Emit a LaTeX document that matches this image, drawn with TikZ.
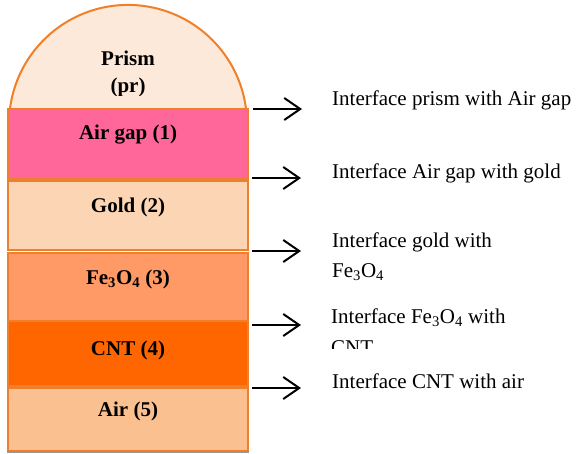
\documentclass[tikz,border=0pt]{standalone}
\usepackage{fontspec}
\setmainfont{Liberation Serif}
\usetikzlibrary{arrows.meta}
\definecolor{domefill}{HTML}{FDE9D9}
\definecolor{edgeor}{HTML}{EE7F2D}
\definecolor{airgapc}{HTML}{FF6699}
\definecolor{goldc}{HTML}{FCD5B5}
\definecolor{fec}{HTML}{FF9966}
\definecolor{cntc}{HTML}{FF6600}
\definecolor{airc}{HTML}{FAC090}
\tikzset{
  layerbox/.style={draw=edgeor, line width=2pt},
  lbl/.style={font=\fontsize{21}{29}\selectfont\bfseries, anchor=base, inner sep=0pt},
  itxt/.style={font=\fontsize{21}{29}\selectfont, anchor=base west, inner sep=0pt},
  ifarrow/.style={draw=black, line width=2pt, -{Straight Barb[length=16pt,width=22pt,line width=2pt]}}
}
\begin{document}
\begin{tikzpicture}[x=1pt,y=1pt]
\useasboundingbox (0,0) rectangle (576,-453);
% dome (prism)
\draw[fill=domefill, draw=edgeor!90!orange, line width=2pt]
  (9.94,-109) arc[start angle=172.8, end angle=7.2, radius=119] -- cycle;
\node[lbl] (prism) at (128,-65) {Prism};
\begin{scope}
  \clip (60,-70) rectangle (200,-95.5);
  \node[lbl] (pr) at (128,-92) {(pr)};
\end{scope}
% layers
\draw[layerbox, fill=airgapc] (8,-109) rectangle (248,-179);
\draw[layerbox, fill=goldc] (8,-181) rectangle (248,-250);
\draw[layerbox, fill=fec] (8,-252.5) rectangle (248,-321);
\draw[layerbox, fill=cntc] (8,-321) rectangle (248,-386);
\draw[layerbox, fill=airc] (8,-388) rectangle (248,-451);
\draw[draw=black!40, line width=1.5pt] (7,-452.5) -- (249,-452.5);
% layer labels
\node[lbl] (l1) at (128,-139) {Air gap (1)};
\node[lbl] (l2) at (128,-212) {Gold (2)};
\node[lbl] (l3) at (128,-284) {Fe\textsubscript{3}O\textsubscript{4} (3)};
\node[lbl] (l4) at (128,-355) {CNT (4)};
\node[lbl] (l5) at (128,-416.5) {Air (5)};
% arrows
\coordinate (a1s) at (253,-109);  \coordinate (a1e) at (302,-109);
\coordinate (a2s) at (252,-178);  \coordinate (a2e) at (301,-178);
\coordinate (a3s) at (252,-251);  \coordinate (a3e) at (301,-251);
\coordinate (a4s) at (252,-325);  \coordinate (a4e) at (301,-325);
\coordinate (a5s) at (252,-388);  \coordinate (a5e) at (301,-388);
\draw[ifarrow] (a1s) -- (a1e);
\draw[ifarrow] (a2s) -- (a2e);
\draw[ifarrow] (a3s) -- (a3e);
\draw[ifarrow] (a4s) -- (a4e);
\draw[ifarrow] (a5s) -- (a5e);
% interface texts
\node[itxt] (t1) at (332,-105) {Interface prism with Air gap};
\node[itxt] (t2) at (332,-178) {Interface Air gap with gold};
\node[itxt] (t3a) at (332,-247) {Interface gold with};
\node[itxt] (t3b) at (332,-277) {Fe\textsubscript{3}O\textsubscript{4}};
\node[itxt] (t4a) at (331,-323) {Interface Fe\textsubscript{3}O\textsubscript{4} with};
\begin{scope}
  \clip (320,-330) rectangle (576,-348);
  \node[itxt] (t4b) at (331,-354) {CNT};
\end{scope}
\node[itxt] (t5) at (332,-388) {Interface CNT with air};
\end{tikzpicture}
\end{document}
